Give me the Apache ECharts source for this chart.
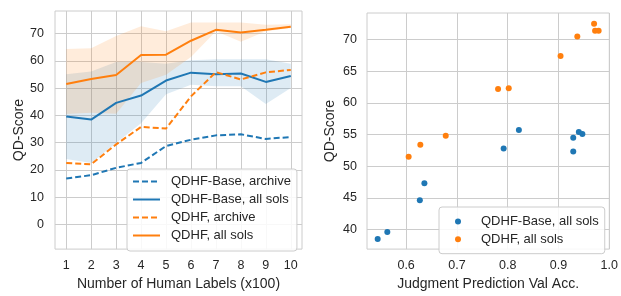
<!DOCTYPE html>
<html>
<head>
<meta charset="utf-8">
<script src="https://cdn.jsdelivr.net/npm/echarts@6/dist/echarts.min.js"></script>
<style>
  html, body { margin: 0; padding: 0; background: #fff; }
  #chart { width: 621px; height: 296px; }
</style>
</head>
<body>
<div id="chart"></div>
<script>
  // left panel: QD-score vs number of human labels
  var humanLabels = [1, 2, 3, 4, 5, 6, 7, 8, 9, 10]
  var baseArchive = [16.9, 18.1, 20.8, 22.6, 28.8, 31.1, 32.7, 33.1, 31.4, 32.1]
  var baseAll = [39.6, 38.5, 44.6, 47.3, 52.8, 55.7, 55.1, 55.4, 52.3, 54.5]
  var baseAllLow = [24.0, 22.6, 29.9, 37.1, 47.8, 51.3, 50.7, 50.7, 44.2, 50.1]
  var baseAllHigh = [55.1, 56.1, 59.6, 59.6, 59.0, 60.2, 60.6, 60.6, 60.6, 59.0]
  var qdhfArchive = [22.6, 22.1, 29.4, 35.8, 35.2, 47.0, 55.9, 53.2, 55.8, 56.7]
  var qdhfAll = [51.5, 53.4, 54.8, 62.2, 62.3, 67.4, 71.4, 70.4, 71.4, 72.5]
  var qdhfAllLow = [40.5, 41.0, 40.6, 51.9, 54.9, 61.4, 70.9, 67.0, 70.9, 72.1]
  var qdhfAllHigh = [64.4, 64.6, 69.1, 72.7, 70.9, 74.1, 74.1, 74.1, 73.3, 73.4]
  var leftYTicks = [0, 10, 20, 30, 40, 50, 60, 70]

  // right panel: QD-score vs judgment prediction accuracy
  var baseAcc = [0.544, 0.563, 0.627, 0.636, 0.792, 0.822, 0.940, 0.947, 0.929, 0.929]
  var baseScore = [38.5, 39.6, 44.6, 47.3, 52.8, 55.7, 55.4, 55.1, 52.3, 54.5]
  var qdhfAcc = [0.605, 0.628, 0.678, 0.781, 0.802, 0.904, 0.937, 0.970, 0.972, 0.979]
  var qdhfScore = [51.5, 53.4, 54.8, 62.2, 62.3, 67.4, 70.5, 72.5, 71.4, 71.4]
  var rightXTicks = [0.6, 0.7, 0.8, 0.9, 1.0]
  var rightYTicks = [40, 45, 50, 55, 60, 65, 70]

  var BLUE = '#1f77b4'
  var ORANGE = '#ff7f0e'
  var TEXT = '#262626'
  var GRID = '#cccccc'
  var FONT = 'Liberation Sans'

  function pairs(xs, ys) {
    return xs.map(function (x, i) { return [x, ys[i]] })
  }

  // shaded band between low and high, drawn as one polygon
  function bandSeries(low, high, color) {
    return {
      type: 'custom',
      silent: true,
      clip: true,
      z: 1,
      data: pairs(humanLabels, low),
      encode: { x: 0, y: 1 },
      renderItem: function (params, api) {
        if (params.dataIndex !== 0) return null
        var pts = []
        for (var i = 0; i < humanLabels.length; i++) pts.push(api.coord([humanLabels[i], high[i]]))
        for (var j = humanLabels.length - 1; j >= 0; j--) pts.push(api.coord([humanLabels[j], low[j]]))
        return {
          type: 'polygon',
          shape: { points: pts },
          style: { fill: color, opacity: 0.15 }
        }
      }
    }
  }

  function lineSeries(name, ys, color, dashed) {
    return {
      type: 'line',
      name: name,
      data: pairs(humanLabels, ys),
      symbol: 'none',
      lineStyle: { color: color, width: 2, type: dashed ? [6, 3] : 'solid' },
      itemStyle: { color: color },
      z: 3
    }
  }

  var tickText = { color: TEXT, fontSize: 12.5, fontFamily: FONT }
  var nameText = { color: TEXT, fontSize: 14, fontFamily: FONT }

  function valueAxis(opts) {
    return Object.assign({
      type: 'value',
      nameLocation: 'middle',
      nameTextStyle: nameText,
      axisLine: { show: false },
      axisTick: { show: false, customValues: opts.ticks },
      axisLabel: Object.assign({ customValues: opts.ticks, margin: opts.margin, formatter: opts.fmt }, tickText),
      splitLine: { show: true, lineStyle: { color: GRID, width: 1 } }
    }, opts.extra)
  }

  var chart = echarts.init(document.getElementById('chart'), null, { renderer: 'canvas' })

  var series = [
    bandSeries(baseAllLow, baseAllHigh, BLUE),
    bandSeries(qdhfAllLow, qdhfAllHigh, ORANGE),
    lineSeries('QDHF-Base, archive', baseArchive, BLUE, true),
    lineSeries('QDHF-Base, all sols', baseAll, BLUE, false),
    lineSeries('QDHF, archive', qdhfArchive, ORANGE, true),
    lineSeries('QDHF, all sols', qdhfAll, ORANGE, false),
    {
      type: 'scatter',
      name: 'QDHF-Base, all sols',
      xAxisIndex: 1,
      yAxisIndex: 1,
      data: pairs(baseAcc, baseScore),
      symbolSize: 6,
      itemStyle: { color: BLUE, opacity: 1 }
    },
    {
      type: 'scatter',
      name: 'QDHF, all sols',
      xAxisIndex: 1,
      yAxisIndex: 1,
      data: pairs(qdhfAcc, qdhfScore),
      symbolSize: 6,
      itemStyle: { color: ORANGE, opacity: 1 }
    }
  ]

  chart.setOption({
    animation: false,
    backgroundColor: '#ffffff',
    textStyle: { fontFamily: FONT },
    grid: [
      { left: 55, top: 11, width: 247, height: 245, show: true, borderColor: GRID, borderWidth: 1, backgroundColor: 'transparent' },
      { left: 367, top: 13, width: 245, height: 243, show: true, borderColor: GRID, borderWidth: 1, backgroundColor: 'transparent' }
    ],
    xAxis: [
      valueAxis({
        ticks: humanLabels,
        margin: 10,
        extra: {
          gridIndex: 0, min: 0.55, max: 10.45,
          name: 'Number of Human Labels (x100)', nameGap: 25
        }
      }),
      valueAxis({
        ticks: rightXTicks,
        margin: 10,
        fmt: function (v) { return v.toFixed(1) },
        extra: {
          gridIndex: 1, min: 0.523, max: 1.0,
          name: 'Judgment Prediction Val Acc.', nameGap: 25
        }
      })
    ],
    yAxis: [
      valueAxis({
        ticks: leftYTicks,
        margin: 11,
        extra: {
          gridIndex: 0, min: -9, max: 78.3,
          name: 'QD-Score', nameGap: 27
        }
      }),
      valueAxis({
        ticks: rightYTicks,
        margin: 10,
        extra: {
          gridIndex: 1, min: 36.9, max: 74.2,
          name: 'QD-Score', nameGap: 30
        }
      })
    ],
    legend: [
      {
        orient: 'vertical',
        left: 127,
        top: 169,
        data: ['QDHF-Base, archive', 'QDHF-Base, all sols', 'QDHF, archive', 'QDHF, all sols'],
        itemWidth: 27,
        itemHeight: 12,
        itemGap: 5,
        padding: [6, 6, 9, 5],
        itemStyle: { opacity: 0 },
        backgroundColor: 'rgba(255,255,255,0.85)',
        borderColor: GRID,
        borderWidth: 1,
        borderRadius: 3,
        textStyle: { color: TEXT, fontSize: 13, fontFamily: FONT, padding: [0, 0, 0, 6] }
      },
      {
        orient: 'vertical',
        left: 439,
        top: 207,
        data: [
          { name: 'QDHF-Base, all sols', icon: 'circle' },
          { name: 'QDHF, all sols', icon: 'circle' }
        ],
        itemWidth: 6,
        itemHeight: 6,
        itemGap: 4.7,
        padding: [8, 6, 8, 16],
        backgroundColor: 'rgba(255,255,255,0.85)',
        borderColor: GRID,
        borderWidth: 1,
        borderRadius: 3,
        textStyle: { color: TEXT, fontSize: 13, fontFamily: FONT, padding: [0, 0, 0, 15] }
      }
    ],
    series: series
  })
</script>
</body>
</html>
